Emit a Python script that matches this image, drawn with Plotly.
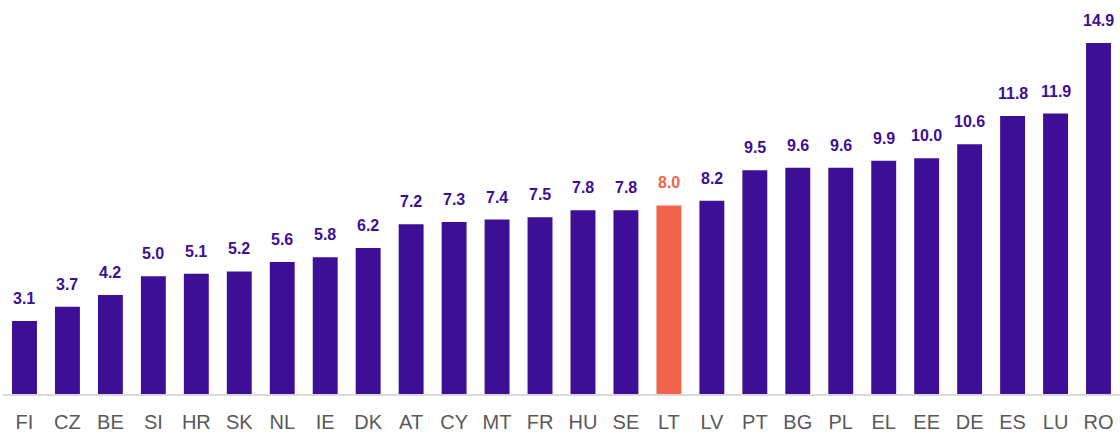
import plotly.graph_objects as go

countries = ["FI","CZ","BE","SI","HR","SK","NL","IE","DK","AT","CY","MT","FR","HU","SE","LT","LV","PT","BG","PL","EL","EE","DE","ES","LU","RO"]
values = [3.1,3.7,4.2,5.0,5.1,5.2,5.6,5.8,6.2,7.2,7.3,7.4,7.5,7.8,7.8,8.0,8.2,9.5,9.6,9.6,9.9,10.0,10.6,11.8,11.9,14.9]
highlight = "LT"

PURPLE = "#3D0F96"
ORANGE = "#F0654A"
colors = [ORANGE if c == highlight else PURPLE for c in countries]

fig = go.Figure(go.Bar(
    x=countries, y=values,
    marker=dict(color=colors, line=dict(width=0)),
    width=0.58,
    hoverinfo="x+y",
))
for c, v, col in zip(countries, values, colors):
    fig.add_annotation(x=c, y=v, text=f"{v:.1f}", showarrow=False,
                       yanchor="bottom", yshift=12,
                       font=dict(family="Liberation Sans, Arial", size=16, color=col, weight="bold"))

fig.update_layout(
    width=1120, height=434,
    margin=dict(l=3, r=0, t=0, b=40),
    plot_bgcolor="white", paper_bgcolor="white",
    showlegend=False,
    xaxis=dict(showline=True, linecolor="#D9D9D9", linewidth=2,
               ticks="outside", ticklen=9, tickcolor="rgba(0,0,0,0)",
               tickfont=dict(family="Liberation Sans, Arial", size=20, color="#595959"),
               showgrid=False),
    yaxis=dict(range=[0, 16.72], visible=False, showgrid=False),
)
fig.write_html("out.html", config={"displayModeBar": False},
               post_script="document.body.style.margin='0';document.body.style.overflow='hidden';")
